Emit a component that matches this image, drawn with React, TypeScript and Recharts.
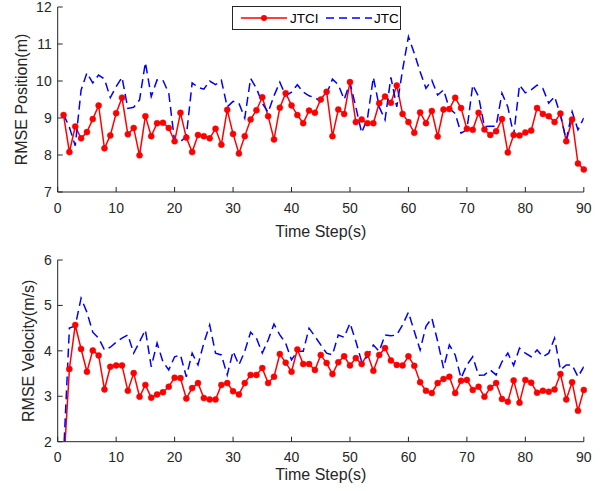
import React from 'react';
import { LineChart, Line, XAxis, YAxis, Legend } from 'recharts';

const steps = [
  1, 2, 3, 4, 5, 6, 7, 8, 9, 10, 11, 12, 13, 14, 15, 16, 17, 18, 19, 20,
  21, 22, 23, 24, 25, 26, 27, 28, 29, 30, 31, 32, 33, 34, 35, 36, 37, 38, 39, 40,
  41, 42, 43, 44, 45, 46, 47, 48, 49, 50, 51, 52, 53, 54, 55, 56, 57, 58, 59, 60,
  61, 62, 63, 64, 65, 66, 67, 68, 69, 70, 71, 72, 73, 74, 75, 76, 77, 78, 79, 80,
  81, 82, 83, 84, 85, 86, 87, 88, 89, 90,
];

const jtciPos = [
  9.08, 8.08, 8.77, 8.45, 8.62, 8.97, 9.34, 8.18, 8.53, 9.13,
  9.55, 8.56, 8.73, 7.99, 9.05, 8.51, 8.86, 8.87, 8.73, 8.37,
  9.14, 8.47, 8.08, 8.54, 8.51, 8.45, 8.71, 8.28, 9.22, 8.57,
  8.04, 8.51, 8.96, 9.21, 9.56, 9.05, 8.42, 9.28, 9.67, 9.34,
  9.08, 8.86, 9.2, 9.14, 9.5, 9.71, 8.51, 9.23, 9.11, 9.97,
  8.89, 8.96, 8.86, 8.86, 9.4, 9.58, 9.41, 9.88, 9.11, 8.89,
  8.6, 9.15, 8.86, 9.19, 8.5, 9.23, 9.24, 9.55, 9.27, 8.71,
  8.68, 9.14, 8.69, 8.54, 8.64, 8.97, 8.07, 8.54, 8.53, 8.61,
  8.66, 9.27, 9.11, 9.05, 8.89, 9.12, 8.37, 8.96, 7.77, 7.61,
];

const jtcPos = [
  9.1, 8.75, 8.25, 9.75, 10.22, 9.95, 10.16, 10.05, 9.55, 9.85,
  10.1, 9.26, 9.29, 9.49, 10.5, 9.58, 10.03, 10.02, 9.67, 8.36,
  8.36, 8.5, 9.95, 9.83, 9.78, 10.0, 9.9, 10.02, 9.3, 9.45,
  9.4, 9.0, 10.07, 9.8, 9.4, 9.15, 9.6, 9.97, 9.6, 9.7,
  9.9, 9.7, 9.6, 9.55, 9.45, 9.65, 10.05, 9.9, 9.5, 9.95,
  9.3, 8.6, 9.0, 10.1, 9.3, 8.95, 10.1, 9.3, 10.3, 11.2,
  10.75, 10.25, 9.8, 10.02, 9.62, 9.76, 9.26, 9.12, 8.59, 8.68,
  9.89, 9.58, 8.77, 8.78, 8.78, 9.67, 9.3, 8.54, 9.89, 9.68,
  9.76, 9.89, 9.8, 9.4, 9.58, 9.08, 8.4, 9.17, 8.68, 9.0,
];

const jtciVel = [
  1.4, 3.6, 4.57, 4.04, 3.54, 4.01, 3.9, 3.15, 3.65, 3.68,
  3.68, 3.12, 3.51, 2.99, 3.25, 2.97, 3.04, 3.09, 3.21, 3.41,
  3.4, 2.95, 3.18, 3.29, 2.96, 2.93, 2.93, 3.25, 3.29, 3.11,
  3.04, 3.29, 3.47, 3.47, 3.62, 3.29, 3.43, 3.93, 3.74, 3.54,
  4.03, 3.71, 3.71, 3.58, 3.91, 3.73, 3.49, 3.75, 3.88, 3.68,
  3.84, 3.71, 3.93, 3.56, 3.91, 4.06, 3.79, 3.69, 3.68, 3.88,
  3.67, 3.31, 3.12, 3.07, 3.29, 3.38, 3.43, 3.07, 3.34, 3.36,
  3.14, 3.21, 2.99, 3.19, 3.29, 2.94, 2.88, 3.35, 2.86, 3.36,
  3.3, 3.08, 3.12, 3.1, 3.15, 3.49, 2.93, 3.31, 2.68, 3.14,
];

const jtcVel = [
  1.7, 4.5, 4.55, 5.16, 4.85, 4.41, 4.28, 4.02, 4.08, 4.19,
  4.28, 4.35, 3.95, 4.2, 4.46, 3.65, 4.17, 3.76, 3.58, 3.87,
  3.91, 3.43, 3.95, 3.69, 4.17, 4.57, 3.95, 3.91, 3.47, 3.99,
  3.69, 3.99, 4.41, 4.28, 3.95, 4.24, 4.59, 4.35, 4.17, 3.8,
  3.99, 3.99, 4.5, 4.32, 4.13, 3.95, 3.91, 4.35, 4.3, 4.61,
  4.21, 3.76, 3.87, 4.13, 3.99, 4.35, 4.33, 4.35, 4.57, 4.85,
  4.43, 4.02, 4.54, 4.72, 4.21, 3.62, 4.13, 3.91, 3.4, 3.69,
  3.87, 3.46, 3.47, 3.58, 3.47, 3.76, 3.95, 3.68, 4.06, 3.95,
  3.87, 4.02, 3.87, 3.95, 4.28, 3.58, 3.69, 3.69, 3.43, 3.65,
];

const xTicks = [0, 10, 20, 30, 40, 50, 60, 70, 80, 90];
const posTicks = [7, 8, 9, 10, 11, 12];
const velTicks = [2, 3, 4, 5, 6];

const posData = steps.map((s, i) => ({ step: s, jtci: jtciPos[i], jtc: jtcPos[i] }));
const velData = steps.map((s, i) => ({ step: s, jtci: jtciVel[i], jtc: jtcVel[i] }));

const FONT = '"Liberation Sans", Arial, Helvetica, sans-serif';
const AXIS = '#262626';
const RED = '#FF0000';
const BLUE = '#0000FF';
const TL = 5;

const BottomTick = (p: any) => {
  const axisY = p.y - 4;
  return (
    <g>
      <line x1={p.x} x2={p.x} y1={axisY} y2={axisY - TL} stroke={AXIS} strokeWidth={1} />
      <text x={p.x} y={axisY + 20.5} textAnchor="middle" fontSize={14} fontFamily={FONT} fill={AXIS}>
        {p.payload.value}
      </text>
    </g>
  );
};

const LeftTick = (p: any) => {
  const axisX = p.x + 4;
  return (
    <g>
      <line x1={axisX} x2={axisX + TL} y1={p.y} y2={p.y} stroke={AXIS} strokeWidth={1} />
      <text x={axisX - 6} y={p.y + 5} textAnchor="end" fontSize={14} fontFamily={FONT} fill={AXIS}>
        {p.payload.value}
      </text>
    </g>
  );
};

const TopTick = (p: any) => (
  <line x1={p.x} x2={p.x} y1={p.y} y2={p.y + TL} stroke={AXIS} strokeWidth={1} />
);

const RightTick = (p: any) => (
  <line x1={p.x} x2={p.x - TL} y1={p.y} y2={p.y} stroke={AXIS} strokeWidth={1} />
);

const Title = (p: any) => (
  <text
    x={p.tx}
    y={p.ty}
    textAnchor="middle"
    fontSize={16}
    fontFamily={FONT}
    fill={AXIS}
    transform={p.rot ? `rotate(-90, ${p.tx}, ${p.ty})` : undefined}
  >
    {p.text}
  </text>
);

const LegendBox = () => (
  <svg width={169} height={24} style={{ display: 'block' }}>
    <rect x={0.5} y={0.5} width={168} height={23} fill="#fff" stroke={AXIS} strokeWidth={1} />
    <line x1={9} x2={55} y1={12} y2={12} stroke={RED} strokeWidth={1.5} />
    <circle cx={32} cy={12} r={3} fill={RED} />
    <text x={58} y={17} fontSize={13.5} fontFamily={FONT} fill="#000">JTCI</text>
    <line x1={94} x2={140} y1={12} y2={12} stroke={BLUE} strokeWidth={1.5} strokeDasharray="8 5" />
    <text x={142} y={17} fontSize={13.5} fontFamily={FONT} fill="#000">JTC</text>
  </svg>
);

type PanelProps = {
  data: any[];
  height: number;
  margin: { top: number; right: number; bottom: number; left: number };
  yDomain: [number, number];
  yTicks: number[];
  yLabel: string;
  yLabelX: number;
  xLabelY: number;
  showLegend?: boolean;
};

const Panel = (props: PanelProps) => {
  const { data, height, margin, yDomain, yTicks, yLabel, yLabelX, xLabelY, showLegend } = props;
  const plotTop = margin.top;
  const plotBottom = height - margin.bottom - 45;
  const plotCx = (57.7 + 583.8) / 2;
  return (
    <LineChart width={602} height={height} data={data} margin={margin}>
      <XAxis
        dataKey="step"
        type="number"
        domain={[0, 90]}
        ticks={xTicks}
        interval={0}
        allowDataOverflow
        height={45}
        tickSize={0}
        tickMargin={4}
        tickLine={false}
        axisLine={{ stroke: AXIS, strokeWidth: 1 }}
        tick={(p: any) => <BottomTick {...p} />}
        label={<Title tx={plotCx} ty={xLabelY} text="Time Step(s)" />}
      />
      <XAxis
        xAxisId="top"
        orientation="top"
        dataKey="step"
        type="number"
        domain={[0, 90]}
        ticks={xTicks}
        interval={0}
        allowDataOverflow
        height={0}
        tickSize={0}
        tickMargin={0}
        tickLine={false}
        axisLine={{ stroke: AXIS, strokeWidth: 1 }}
        tick={(p: any) => <TopTick {...p} />}
      />
      <YAxis
        type="number"
        domain={yDomain}
        ticks={yTicks}
        interval={0}
        allowDataOverflow
        width={50}
        tickSize={0}
        tickMargin={4}
        tickLine={false}
        axisLine={{ stroke: AXIS, strokeWidth: 1 }}
        tick={(p: any) => <LeftTick {...p} />}
        label={<Title tx={yLabelX} ty={(plotTop + plotBottom) / 2} rot text={yLabel} />}
      />
      <YAxis
        yAxisId="right"
        orientation="right"
        type="number"
        domain={yDomain}
        ticks={yTicks}
        interval={0}
        allowDataOverflow
        width={0}
        tickSize={0}
        tickMargin={0}
        tickLine={false}
        axisLine={{ stroke: AXIS, strokeWidth: 1 }}
        tick={(p: any) => <RightTick {...p} />}
      />
      {showLegend ? (
        <Legend
          layout="horizontal"
          verticalAlign="middle"
          align="center"
          wrapperStyle={{ left: 232, top: 6, width: 169, height: 24, margin: 0, padding: 0 }}
          content={() => <LegendBox />}
        />
      ) : null}
      <Line
        dataKey="jtci"
        name="JTCI"
        stroke={RED}
        strokeWidth={1.5}
        dot={{ r: 3, fill: RED, stroke: RED, strokeWidth: 0.5, clipDot: false } as any}
        isAnimationActive={false}
      />
      <Line
        dataKey="jtc"
        name="JTC"
        stroke={BLUE}
        strokeWidth={1.5}
        strokeDasharray="9 5"
        dot={false}
        isAnimationActive={false}
      />
    </LineChart>
  );
};

export default function App() {
  return (
    <div
      style={{
        position: 'absolute',
        left: 0,
        top: 0,
        width: 602,
        height: 491,
        background: '#fff',
        fontFamily: FONT,
      }}
    >
      <Panel
        data={posData}
        height={245}
        margin={{ top: 7, right: 18.2, bottom: 8, left: 7.7 }}
        yDomain={[7, 12]}
        yTicks={posTicks}
        yLabel="RMSE Position(m)"
        yLabelX={26.7}
        xLabelY={236.7}
        showLegend
      />
      <Panel
        data={velData}
        height={246}
        margin={{ top: 15, right: 18.2, bottom: 4.3, left: 7.7 }}
        yDomain={[2, 6]}
        yTicks={velTicks}
        yLabel="RMSE Velocity(m/s)"
        yLabelX={34}
        xLabelY={235}
      />
    </div>
  );
}
